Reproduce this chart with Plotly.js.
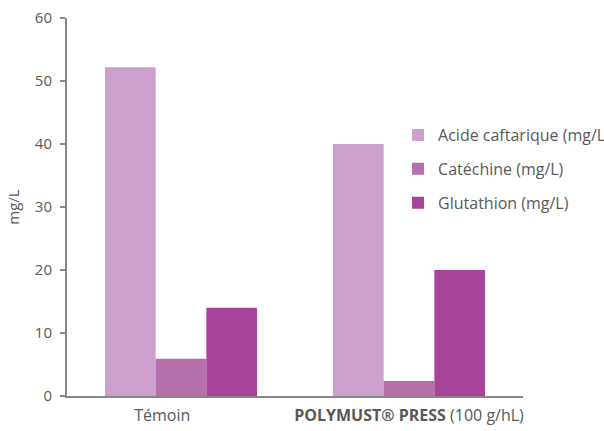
<!DOCTYPE html>
<html><head><meta charset="utf-8">
<script src="https://cdn.plot.ly/plotly-3.0.1.min.js"></script>
<style>html,body{margin:0;padding:0;background:#fff;}#chart{width:604px;height:431px;}</style>
</head><body><div id="chart"></div>
<script>
const categories = ["Témoin", "POLYMUST® PRESS (100 g/hL)"];
const tickLabels = ["Témoin\u00a0\u00a0\u00a0\u00a0\u00a0\u00a0\u00a0\u00a0\u00a0", "<b>POLYMUST® PRESS</b> (100 g/hL)"];
const seriesNames = ["Acide caftarique (mg/L)", "Catéchine (mg/L)", "Glutathion (mg/L)"];
const acideCaftarique = [52.2, 40.0];
const catechine = [5.9, 2.4];
const glutathion = [14.0, 20.0];
const colors = ["#CDA0CB", "#B570AB", "#A54498"];

const series = [acideCaftarique, catechine, glutathion];
const data = series.map((vals, i) => ({
  type: 'bar', x: categories, y: vals, name: seriesNames[i],
  legendgroup: 'g' + i,
  marker: {color: colors[i], line: {width: 0}},
  hoverinfo: 'none'
}));

const layout = {
  width: 604, height: 431,
  margin: {l: 67, r: 81, t: 18, b: 35, autoexpand: false},
  paper_bgcolor: '#fff', plot_bgcolor: '#fff',
  font: {family: 'Open Sans, sans-serif', size: 16, color: '#595959'},
  barmode: 'group', bargap: 0.333, bargroupgap: 0,
  showlegend: true,
  legend: {x: 0.726, xanchor: 'left', y: 0.735, yanchor: 'top',
           traceorder: 'grouped', tracegroupgap: 10,
           font: {size: 16, color: '#595959'}, bgcolor: 'rgba(0,0,0,0)'},
  xaxis: {tickmode: 'array', tickvals: categories, ticktext: tickLabels,
          showline: true, linecolor: '#888888', linewidth: 2,
          ticks: '', showgrid: false, zeroline: false, ticklabelstandoff: 4,
          tickfont: {size: 16, color: '#595959'}},
  yaxis: {range: [0, 60], dtick: 10, showline: true, linecolor: '#888888', linewidth: 2,
          ticks: 'outside', ticklen: 5, tickcolor: '#888888', tickwidth: 1.5,
          showgrid: false, zeroline: false, ticklabelstandoff: 5,
          tickfont: {size: 15, color: '#595959'},
          title: {text: 'mg/L', font: {size: 15, color: '#595959'}, standoff: 12}}
};
Plotly.newPlot('chart', data, layout, {displayModeBar: false, staticPlot: true});
</script></body></html>
